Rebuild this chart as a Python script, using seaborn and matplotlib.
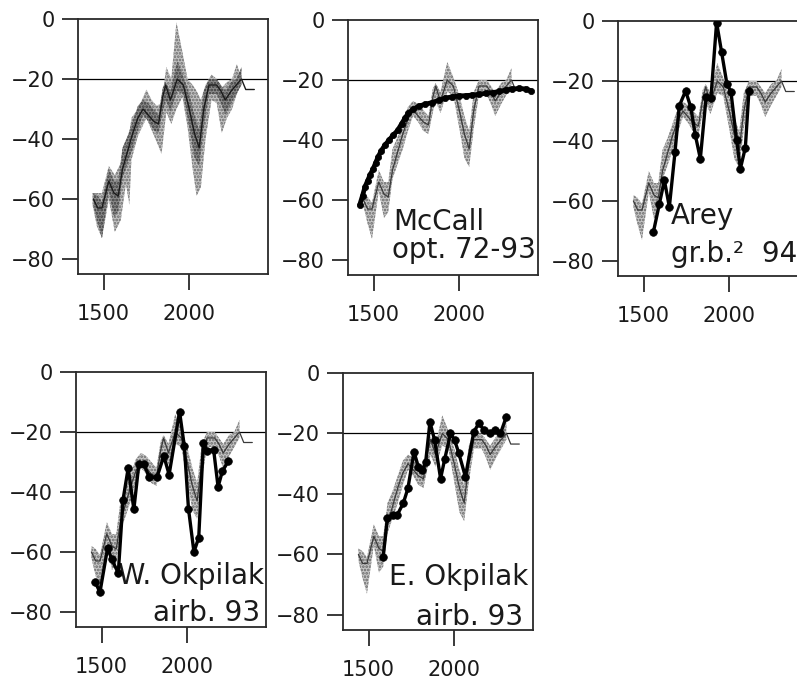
import numpy as np
import pandas as pd
import matplotlib
matplotlib.use("Agg")
import matplotlib.pyplot as plt
import seaborn as sns

# ---------------- data ----------------
xticks = [1500, 2000]
yticks = [0, -20, -40, -60, -80]

# common stippled band (all panels) and its thin centre line
band_x = [1440, 1465, 1490, 1530, 1560, 1585, 1610, 1640, 1670, 1700, 1730, 1760, 1790, 1820, 1845,
          1862, 1890, 1930, 1965, 2000, 2030, 2058, 2085, 2115, 2160, 2185, 2210, 2245, 2275, 2305]
band_mid = [-60, -63, -63, -54, -58, -59, -50, -44, -38, -33, -30, -32, -34, -35, -26,
            -22, -27, -20, -22, -30, -38, -43, -30, -22, -22, -24, -27, -24, -22, -20]
band_hi = [-58, -59, -61, -50, -54, -54, -43, -39, -34, -29, -27, -28, -30, -32, -23,
           -21, -24, -14, -19, -25, -32, -37, -24, -20, -20, -22, -24, -21, -20, -16]
band_lo = [-62, -68, -73, -57, -66, -64, -53, -48, -43, -37, -32, -34, -37, -38, -31,
           -27, -31, -24, -25, -36, -46, -49, -36, -25, -25, -28, -32, -28, -25, -22]
tail_x = [2305, 2330, 2380]
tail_y = [-20, -23.5, -23.5]

# panel 1: outer envelope of all runs
p1_x = [1435, 1460, 1490, 1530, 1565, 1600, 1630, 1650, 1662, 1700, 1750, 1780, 1810, 1838, 1866,
        1895, 1925, 1960, 1990, 2020, 2043, 2068, 2095, 2130, 2160, 2190, 2220, 2250, 2278, 2300]
p1_hi = [-58, -58, -58, -49, -52, -48, -42, -38, -33, -30, -23.5, -27, -29, -28, -16,
         -20, -1, -11, -20, -22, -24, -27, -22, -18.5, -20, -23, -21, -20, -15, -19]
p1_lo = [-62, -69, -73, -60, -71, -67, -55, -62, -47, -39, -33, -37, -41, -45, -31,
         -35, -30, -26, -36, -50, -59, -56, -40, -27, -28, -38, -33, -30, -25, -22]

# McCall, optical 72-93
mc_x = [1418, 1435, 1450, 1465, 1480, 1498, 1512, 1527, 1545, 1566, 1590, 1615, 1640, 1664, 1685,
        1703, 1730, 1762, 1800, 1841, 1880, 1919, 1960, 1997, 2040, 2076, 2115, 2155, 2195, 2235,
        2272, 2310, 2351, 2390, 2420]
mc_y = [-61.7, -58.5, -55.5, -53.5, -51.5, -49.5, -47.5, -45.5, -43.5, -41.7, -40.0, -38.3, -36.8, -34.5, -32.5,
        -31.0, -29.8, -28.7, -28.1, -27.5, -26.8, -26.0, -25.6, -25.3, -25.2, -25.0, -24.8, -24.4, -24.2, -23.8,
        -23.3, -23.0, -22.8, -23.0, -23.6]

# Arey, ground-based 94
arey_x = [1557, 1592, 1621, 1650, 1683, 1708, 1745, 1775, 1802, 1831, 1865, 1893, 1926, 1955, 1986,
          2010, 2043, 2065, 2094, 2115]
arey_y = [-70.3, -60.9, -53.1, -62.0, -43.7, -28.3, -23.3, -28.7, -38.1, -45.9, -25.3, -25.5, -0.5, -10.3, -20.9,
          -23.7, -39.8, -49.2, -42.2, -23.2]

# W. Okpilak, airborne 93
wok_x = [1461, 1490, 1535, 1558, 1597, 1625, 1655, 1688, 1717, 1745, 1779, 1823, 1863, 1894, 1955,
         1983, 2007, 2039, 2067, 2094, 2115, 2154, 2180, 2205, 2240]
wok_y = [-69.9, -73.4, -58.5, -62.4, -67.0, -42.5, -32.0, -45.8, -30.8, -30.6, -35.1, -35.1, -28.0, -34.2, -13.2,
         -24.8, -45.5, -60.0, -55.2, -23.5, -26.2, -25.9, -38.3, -33.1, -29.7]

# E. Okpilak, airborne 93
eok_x = [1585, 1609, 1640, 1667, 1702, 1729, 1765, 1790, 1813, 1833, 1858, 1885, 1920, 1945, 1978,
         2002, 2027, 2065, 2114, 2143, 2172, 2211, 2240, 2270, 2304]
eok_y = [-60.7, -48.1, -47.0, -46.9, -43.1, -38.2, -26.1, -31.0, -32.1, -29.4, -16.2, -22.2, -34.9, -28.3, -20.0,
         -22.2, -26.6, -34.3, -19.5, -16.7, -18.7, -20.0, -18.9, -20.0, -14.5]

# ---------------- style ----------------
sns.set_style("ticks")
plt.rcParams["font.family"] = ["DejaVu Sans"]
plt.rcParams["hatch.linewidth"] = 1.3
plt.rcParams["axes.unicode_minus"] = True

fig = plt.figure(figsize=(7.97, 6.8), dpi=100)


def add_ax(left, top, w, h):
    return fig.add_axes([left / 797, 1 - (top + h) / 680, w / 797, h / 680])


def style(ax):
    ax.set_xlim(1350, 2460)
    ax.set_ylim(-85, 0)
    ax.set_xticks(xticks)
    ax.set_yticks(yticks)
    ax.set_xticklabels([str(v) for v in xticks])
    ax.set_facecolor("white")
    for s in ax.spines.values():
        s.set_visible(True)
        s.set_linewidth(1.3)
        s.set_color("#2a2a2a")
    ax.tick_params(axis="y", direction="out", length=11.5, width=1.3, pad=5,
                   labelsize=15, color="#2a2a2a", labelcolor="#1a1a1a")
    ax.tick_params(axis="x", direction="out", length=11.5, width=1.3, pad=10,
                   labelsize=15, color="#2a2a2a", labelcolor="#1a1a1a")
    ax.set_xlabel("")
    ax.set_ylabel("")
    ax.axhline(-20, color="black", lw=0.9, zorder=1)


def draw_band(ax, face="#c6c6c6", hatch_col="#666666"):
    ax.fill_between(band_x, band_lo, band_hi, facecolor=face, edgecolor=hatch_col,
                    hatch=".....", linewidth=0, zorder=2)
    sns.lineplot(x=band_x + tail_x[1:], y=band_mid + tail_y[1:], ax=ax, color="#3a3a3a",
                 lw=0.9, sort=False, zorder=3, legend=False)


def draw_series(ax, xs, ys, lw=2.4, ms=5.5):
    sns.lineplot(x=xs, y=ys, ax=ax, color="black", lw=lw, marker="o", markersize=ms,
                 markeredgecolor="black", markeredgewidth=0.5, sort=False, zorder=5, legend=False)


# panel 1
ax1 = add_ax(78, 19, 190, 255)
ax1.fill_between(p1_x, p1_lo, p1_hi, facecolor="#c2c2c2", edgecolor="#6a6a6a",
                 hatch=".....", linewidth=0, zorder=2)
ax1.fill_between(band_x, band_lo, band_hi, facecolor="#8a8a8a", edgecolor="#3a3a3a",
                 hatch=".....", linewidth=0, zorder=2.5)
sns.lineplot(x=band_x + tail_x[1:], y=band_mid + tail_y[1:], ax=ax1, color="#1a1a1a",
             lw=1.0, sort=False, zorder=3, legend=False)
style(ax1)

# panel 2
ax2 = add_ax(348, 20, 190, 255)
draw_band(ax2)
draw_series(ax2, mc_x, mc_y, lw=3.4, ms=4.5)
style(ax2)
ax2.text(1612, -70, "McCall", fontsize=20, ha="left", va="baseline", color="#1a1a1a")
ax2.text(1606, -79.5, "opt. 72-93", fontsize=20, ha="left", va="baseline", color="#1a1a1a")

# panel 3 (runs off the right edge)
ax3 = add_ax(618, 21, 190, 255)
draw_band(ax3)
draw_series(ax3, arey_x, arey_y)
style(ax3)
ax3.text(1661, -67.5, "Arey", fontsize=20, ha="left", va="baseline", color="#1a1a1a")
ax3.text(1661, -80.3, "gr.b.\u00b2  94", fontsize=20, ha="left", va="baseline", color="#1a1a1a")

# panel 4
ax4 = add_ax(76, 372, 190, 255)
draw_band(ax4)
draw_series(ax4, wok_x, wok_y)
style(ax4)
ax4.text(2448, -70.6, "W. Okpilak", fontsize=20, ha="right", va="baseline", color="#1a1a1a")
ax4.text(2425, -83, "airb. 93", fontsize=20, ha="right", va="baseline", color="#1a1a1a")

# panel 5
ax5 = add_ax(343, 373, 190, 257)
draw_band(ax5)
draw_series(ax5, eok_x, eok_y)
style(ax5)
ax5.text(2430, -70.1, "E. Okpilak", fontsize=20, ha="right", va="baseline", color="#1a1a1a")
ax5.text(2401, -83.3, "airb. 93", fontsize=20, ha="right", va="baseline", color="#1a1a1a")

fig.savefig("out.png", dpi=100)
